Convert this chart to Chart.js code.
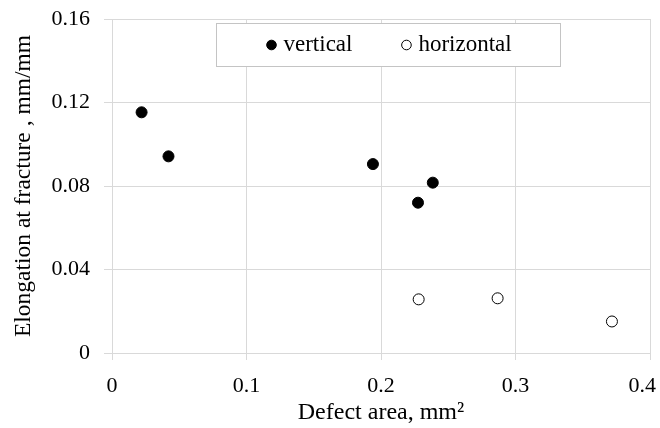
<!DOCTYPE html>
<html>
<head>
<meta charset="utf-8">
<script src="https://cdn.jsdelivr.net/npm/chart.js@4.4.1/dist/chart.umd.min.js"></script>
<style>
html,body{margin:0;padding:0;background:#fff;}
#wrap{width:660px;height:428px;position:relative;}
</style>
</head>
<body>
<div id="wrap"><canvas id="c" width="660" height="428"></canvas></div>
<script>
// ---- data ----
const seriesNames = ['vertical', 'horizontal'];
const verticalX = [0.022, 0.042, 0.194, 0.2385, 0.2275];
const verticalY = [0.1153, 0.0942, 0.0905, 0.0816, 0.0720];
const horizontalX = [0.228, 0.2867, 0.3717];
const horizontalY = [0.0257, 0.0262, 0.0151];
const xTickLabels = ['0', '0.1', '0.2', '0.3', '0.4'];
const yTickLabels = ['0', '0.04', '0.08', '0.12', '0.16'];
const xTitle = 'Defect area, mm\u00B2';
const yTitle = 'Elongation at fracture , mm/mm';

const FONT = "'Liberation Serif', 'Times New Roman', serif";
const GRID = '#d9d9d9';

const toPts = (xs, ys) => xs.map((x, i) => ({x: x, y: ys[i]}));

// keep the last x tick label inside the canvas (as the original does)
const fitLastLabel = {
  id: 'fitLastLabel',
  beforeDraw(chart) {
    const s = chart.scales.x;
    const items = s.getLabelItems(chart.chartArea);
    if (!items || !items.length) return;
    const last = items[items.length - 1];
    const ctx = chart.ctx;
    ctx.save();
    ctx.font = last.font.string;
    const w = ctx.measureText(String(last.label)).width;
    ctx.restore();
    const maxRight = chart.width - 4;
    const x = last.options.translation[0];
    if (x + w / 2 > maxRight) {
      last.options.translation[0] = maxRight - w / 2;
    }
  }
};

const legendBox = {
  id: 'legendBox',
  afterDraw(chart) {
    const ctx = chart.ctx;
    const ca = chart.chartArea;
    const left = ca.left + 104.5, top = ca.top + 4.5;
    const w = 344, h = 43;
    ctx.save();
    ctx.fillStyle = '#fff';
    ctx.fillRect(left, top, w, h);
    ctx.strokeStyle = '#c4c4c4';
    ctx.lineWidth = 1;
    ctx.strokeRect(left, top, w, h);
    ctx.font = '23px ' + FONT;
    ctx.textBaseline = 'middle';
    const cy = top + h / 2;
    let x = left + 55;
    chart.data.datasets.forEach((ds) => {
      ctx.beginPath();
      ctx.arc(x, cy, 4.8, 0, Math.PI * 2);
      ctx.fillStyle = ds.backgroundColor;
      ctx.fill();
      ctx.strokeStyle = ds.borderColor;
      ctx.lineWidth = 1;
      ctx.stroke();
      ctx.fillStyle = '#000';
      ctx.fillText(ds.label, x + 12, cy);
      x += 12 + ctx.measureText(ds.label).width + 54;
    });
    ctx.restore();
  }
};

new Chart(document.getElementById('c'), {
  type: 'scatter',
  data: {
    datasets: [
      {label: seriesNames[0], data: toPts(verticalX, verticalY), backgroundColor: '#000', borderColor: '#000',
       pointRadius: 5.5, pointHoverRadius: 5.5, borderWidth: 1},
      {label: seriesNames[1], data: toPts(horizontalX, horizontalY), backgroundColor: '#fff', borderColor: '#000',
       pointRadius: 5.5, pointHoverRadius: 5.5, borderWidth: 1}
    ]
  },
  options: {
    responsive: false,
    animation: false,
    events: [],
    layout: {padding: {top: 19, right: 10, bottom: 0, left: 0}},
    plugins: {legend: {display: false}, tooltip: {enabled: false}},
    scales: {
      x: {
        type: 'linear', min: 0, max: 0.4,
        border: {display: false},
        grid: {color: GRID, lineWidth: 1, tickLength: 7, tickColor: GRID},
        ticks: {stepSize: 0.1, color: '#000', padding: 13, font: {family: FONT, size: 22},
          callback: (v, i) => xTickLabels[i]},
        title: {display: true, text: xTitle, color: '#000', font: {family: FONT, size: 24}, padding: {top: 0, bottom: 1}},
        afterFit(s) { s.height = 75; s.paddingLeft = 0; s.paddingRight = 0; }
      },
      y: {
        type: 'linear', min: 0, max: 0.16,
        border: {display: false},
        grid: {color: GRID, lineWidth: 1, tickLength: 8, tickColor: GRID},
        ticks: {stepSize: 0.04, color: '#000', padding: 14, font: {family: FONT, size: 22},
          callback: (v, i) => yTickLabels[i]},
        title: {display: true, text: yTitle, color: '#000', font: {family: FONT, size: 23.5}, padding: {top: 10, bottom: 0}},
        afterFit(s) { s.width = 112; s.paddingTop = 0; s.paddingBottom = 0; }
      }
    }
  },
  plugins: [fitLastLabel, legendBox]
});
</script>
</body>
</html>
